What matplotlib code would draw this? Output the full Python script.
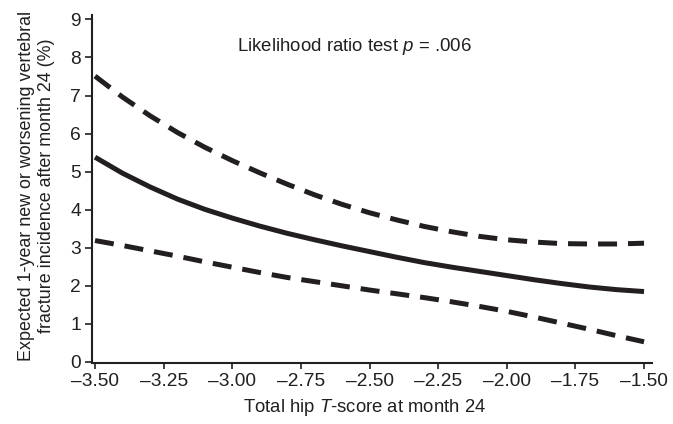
import matplotlib
matplotlib.use("Agg")
import matplotlib.pyplot as plt

plt.rcParams['font.family'] = ['Liberation Sans', 'DejaVu Sans']
plt.rcParams['mathtext.fontset'] = 'custom'
plt.rcParams['mathtext.rm'] = 'Liberation Sans'
plt.rcParams['mathtext.it'] = 'Liberation Sans:italic'

# Data
t_score = [-3.5, -3.4, -3.3, -3.2, -3.1, -3.0, -2.9, -2.8, -2.7, -2.6, -2.5,
           -2.4, -2.3, -2.2, -2.1, -2.0, -1.9, -1.8, -1.7, -1.6, -1.5]
estimate = [5.38, 4.96, 4.60, 4.28, 4.01, 3.78, 3.57, 3.38, 3.21, 3.05, 2.90,
            2.75, 2.61, 2.49, 2.38, 2.27, 2.16, 2.06, 1.97, 1.90, 1.85]
upper_ci = [7.51, 6.96, 6.47, 6.03, 5.64, 5.29, 4.97, 4.67, 4.39, 4.14, 3.92,
            3.73, 3.56, 3.42, 3.30, 3.21, 3.15, 3.11, 3.10, 3.10, 3.12]
lower_ci = [3.19, 3.06, 2.92, 2.78, 2.63, 2.49, 2.35, 2.22, 2.11, 2.00, 1.89,
            1.79, 1.69, 1.58, 1.46, 1.33, 1.18, 1.02, 0.86, 0.69, 0.53]

x_ticks = [-3.50, -3.25, -3.00, -2.75, -2.50, -2.25, -2.00, -1.75, -1.50]
x_tick_labels = ['\u20133.50', '\u20133.25', '\u20133.00', '\u20132.75', '\u20132.50',
                 '\u20132.25', '\u20132.00', '\u20131.75', '\u20131.50']
y_ticks = [0, 1, 2, 3, 4, 5, 6, 7, 8, 9]

color = '#231f20'

fig = plt.figure(figsize=(6.73, 4.24), dpi=100)
ax = fig.add_axes([0.1367, 0.1427, 0.8321, 0.8219])

lw = 3.6
ax.plot(t_score, estimate, color=color, lw=lw, solid_capstyle='butt')
ax.plot(t_score, upper_ci, color=color, lw=lw, linestyle=(0, (3.8, 2.2)),
        dash_capstyle='butt')
ax.plot(t_score, lower_ci, color=color, lw=lw, linestyle=(0, (3.8, 2.2)),
        dash_capstyle='butt')

ax.set_xlim(-3.511, -1.471)
ax.set_ylim(-0.04, 9.115)

ax.spines['top'].set_visible(False)
ax.spines['right'].set_visible(False)
for s in ('left', 'bottom'):
    ax.spines[s].set_linewidth(1.5)
    ax.spines[s].set_color(color)

ax.set_xticks(x_ticks)
ax.set_xticklabels(x_tick_labels)
ax.set_yticks(y_ticks)
ax.tick_params(axis='both', direction='out', width=1.2, colors=color,
               labelsize=13.8, labelcolor=color)
ax.tick_params(axis='y', length=5, pad=3)
ax.tick_params(axis='x', length=4.5, pad=2.5)

ax.set_xlabel('Total hip $T$-score at month 24', fontsize=13.3, color=color)
ax.xaxis.set_label_coords(0.486, -0.097)
ax.set_ylabel('Expected 1-year new or worsening vertebral\nfracture incidence after month 24 (%)',
              fontsize=12.9, color=color, linespacing=1.2)
ax.yaxis.set_label_coords(-0.066, 0.51)

ax.text(0.259, 0.911, 'Likelihood ratio test $p$ = .006', transform=ax.transAxes,
        ha='left', va='center', fontsize=13.4, color=color)

fig.savefig('out.png', dpi=100)
